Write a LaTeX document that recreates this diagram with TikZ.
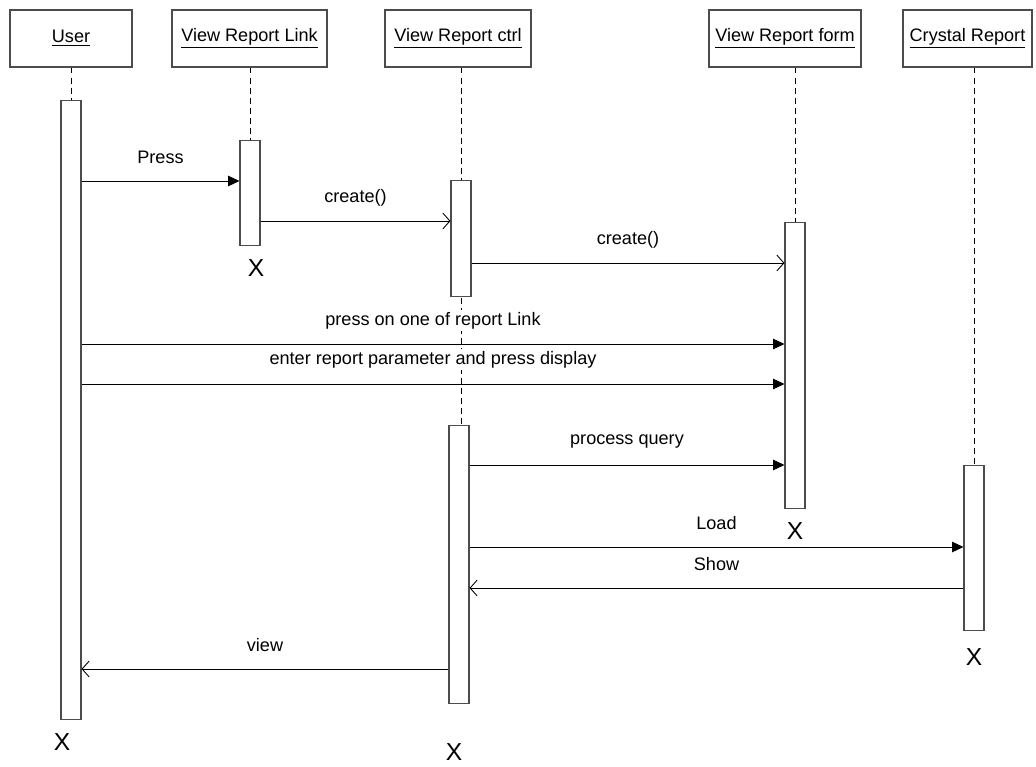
\documentclass[tikz,border=0pt]{standalone}
\usepackage{fontspec}
\setmainfont{Liberation Sans}
\usetikzlibrary{arrows.meta}

\begin{document}
\begin{tikzpicture}[
    x=0.02cm,
    y=-0.02cm,
    line cap=butt,
    line join=miter,
    objbox/.style={draw=black!70,line width=0.6pt,minimum height=1.14cm,inner sep=0pt,font=\fontsize{10.3pt}{12pt}\selectfont},
    actbar/.style={draw=black!70,fill=white,line width=0.6pt,minimum width=0.4cm,inner sep=0pt,anchor=north},
    lifeline/.style={line width=0.5pt,dash pattern=on 3.4pt off 2.3pt},
    call/.style={line width=0.55pt,-{Triangle[length=6.5pt,width=6pt]}},
    reply/.style={line width=0.55pt,-{Straight Barb[length=4pt,width=9pt,line width=0.5pt]}},
    msglabel/.style={midway,yshift=0.47cm,fill=white,inner sep=1pt,font=\fontsize{10.3pt}{12pt}\selectfont},
    killmark/.style={font=\fontsize{14pt}{16pt}\selectfont,inner sep=0pt}
]

\useasboundingbox (0,0) rectangle (1036,767);

% -------------------------------------------------
% Objects
% -------------------------------------------------

\node[objbox,minimum width=2.44cm] (user)    at (71,38.5)  {\underline{User}};
\node[objbox,minimum width=3.10cm] (link)    at (249.5,38.5) {\underline{View Report Link}};
\node[objbox,minimum width=2.92cm] (ctrl)    at (458,38.5) {\underline{View Report ctrl}};
\node[objbox,minimum width=3.04cm] (form)    at (785,38.5) {\underline{View Report form}};
\node[objbox,minimum width=2.58cm] (crystal) at (967.5,38.5) {\underline{Crystal Report}};

% -------------------------------------------------
% Lifelines
% -------------------------------------------------

\coordinate (userTop)    at (71,100);
\coordinate (linkTop)    at (250,140);
\coordinate (ctrlTop)    at (461,180);
\coordinate (ctrlMid)    at (461,425);
\coordinate (formTop)    at (795,222);
\coordinate (crystalTop) at (974,465);

\draw[lifeline] (user.south) -- (userTop);
\draw[lifeline] (link.south -| linkTop) -- (linkTop);
\draw[lifeline] (ctrl.south -| ctrlTop) -- (ctrlMid);
\draw[lifeline] (form.south -| formTop) -- (formTop);
\draw[lifeline] (crystal.south -| crystalTop) -- (crystalTop);

% -------------------------------------------------
% Activation bars
% -------------------------------------------------

\node[actbar,minimum height=12.38cm] (userA)    at (userTop)    {};
\node[actbar,minimum height=2.10cm]  (linkA)    at (linkTop)    {};
\node[actbar,minimum height=2.32cm]  (ctrlA)    at (ctrlTop)    {};
\node[actbar,minimum height=5.56cm]  (ctrlB)    at (459,425)    {};
\node[actbar,minimum height=5.72cm]  (formA)    at (formTop)    {};
\node[actbar,minimum height=3.30cm]  (crystalA) at (crystalTop) {};

% -------------------------------------------------
% Messages
% -------------------------------------------------

\draw[call]  (userA.east |- 0,181) -- (linkA.west |- 0,181)
    node[msglabel] (mPress) {Press};
\draw[reply] (linkA.east |- 0,221) -- (ctrlA.west |- 0,221)
    node[msglabel] (mCreate1) {create()};
\draw[reply] (ctrlA.east |- 0,263) -- (formA.west |- 0,263)
    node[msglabel] (mCreate2) {create()};
\draw[call]  (userA.east |- 0,344) -- (formA.west |- 0,344)
    node[msglabel] (mPressOn) {press on one of report Link};
\draw[call]  (userA.east |- 0,384) -- (formA.west |- 0,384)
    node[msglabel,yshift=0.02cm] (mEnter) {enter report parameter and press display};
\draw[call]  (ctrlB.east |- 0,465) -- (formA.west |- 0,465)
    node[msglabel] (mQuery) {process query};
\draw[call]  (ctrlB.east |- 0,547) -- (crystalA.west |- 0,547)
    node[msglabel] (mLoad) {Load};
\draw[reply] (crystalA.west |- 0,588) -- (ctrlB.east |- 0,588)
    node[msglabel] (mShow) {Show};
\draw[reply] (ctrlB.west |- 0,669) -- (userA.east |- 0,669)
    node[msglabel] (mView) {view};

% -------------------------------------------------
% Destruction marks
% -------------------------------------------------

\node[killmark] (userX)    at (62,742)  {X};
\node[killmark] (linkX)    at (256,268) {X};
\node[killmark] (ctrlX)    at (454,752) {X};
\node[killmark] (formX)    at (795,531) {X};
\node[killmark] (crystalX) at (974,657) {X};

\end{tikzpicture}
\end{document}
